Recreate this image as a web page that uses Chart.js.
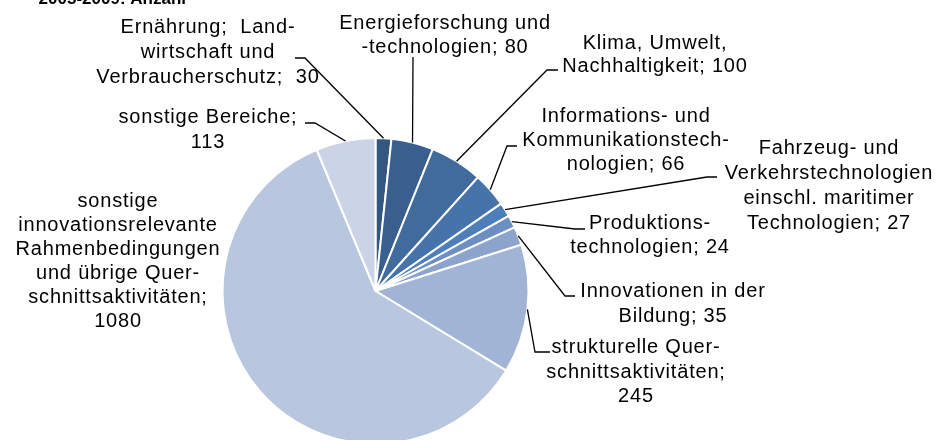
<!DOCTYPE html>
<html lang="de">
<head>
  <meta charset="UTF-8">
  <title>Vorhaben nach Bereichen</title>
  <script src="https://cdn.jsdelivr.net/npm/chart.js"></script>
  <style>
    body {
      margin: 0;
      background: #fff;
      overflow: hidden;
    }

    .wrap {
      width: 939px;
      height: 460px;
    }
  </style>
</head>
<body>
  <div class="wrap">
    <canvas id="pie" width="939" height="460"></canvas>
  </div>

  <script>
    // Daten
    const titleText = '2005-2009: Anzahl';

    const categories = [
      'Ernährung; Landwirtschaft und Verbraucherschutz',
      'Energieforschung und -technologien',
      'Klima, Umwelt, Nachhaltigkeit',
      'Informations- und Kommunikationstechnologien',
      'Fahrzeug- und Verkehrstechnologien einschl. maritimer Technologien',
      'Produktionstechnologien',
      'Innovationen in der Bildung',
      'strukturelle Querschnittsaktivitäten',
      'sonstige innovationsrelevante Rahmenbedingungen und übrige Querschnittsaktivitäten',
      'sonstige Bereiche'
    ];

    const values = [30, 80, 100, 66, 27, 24, 35, 245, 1080, 113];

    // Zeilenumbrüche der Beschriftungen, {v} = Wert
    const labelLines = [
      ['Ernährung;  Land-', 'wirtschaft und', 'Verbraucherschutz;  {v}'],
      ['Energieforschung und', '-technologien; {v}'],
      ['Klima, Umwelt,', 'Nachhaltigkeit; {v}'],
      ['Informations- und', 'Kommunikationstech-', 'nologien; {v}'],
      ['Fahrzeug- und', 'Verkehrstechnologien', 'einschl. maritimer', 'Technologien; {v}'],
      ['Produktions-', 'technologien; {v}'],
      ['Innovationen in der', 'Bildung; {v}'],
      ['strukturelle Quer-', 'schnittsaktivitäten;', '{v}'],
      ['sonstige', 'innovationsrelevante', 'Rahmenbedingungen', 'und übrige Quer-', 'schnittsaktivitäten;', '{v}'],
      ['sonstige Bereiche;', '{v}']
    ];

    const sliceColors = [
      '#34577F', '#3A5F8E', '#416A9D', '#4673A9', '#4C7EB9',
      '#6C8EC3', '#8CA3CB', '#A2B4D5', '#B9C6DF', '#CAD4E6'
    ];

    // Lage der Beschriftungen: Mitte x, erste Grundlinie y, Knick der Führungslinie
    const labelPos = [
      { x: 208, y: 33, lh: 25, leader: [[295, 58], [305, 58]] },
      { x: 445, y: 29, lh: 24, leader: [[413, 57], [413, 58]] },
      { x: 655, y: 49, lh: 23, leader: [[558, 70], [547, 70]] },
      { x: 626, y: 122, lh: 24, leader: [[517, 146], [507, 146]] },
      { x: 829, y: 154, lh: 25, leader: [[717, 177], [707, 177]] },
      { x: 650, y: 229, lh: 24, leader: [[585, 229], [575, 229]] },
      { x: 673, y: 297, lh: 25, leader: [[575, 296], [565, 296]] },
      { x: 636, y: 353, lh: 24.5, leader: [[550, 352], [535, 352]] },
      { x: 118, y: 207, lh: 24, leader: null },
      { x: 208, y: 123, lh: 25, leader: [[305, 123], [315, 123]] }
    ];

    // Beschriftungen mit Führungslinien
    const labelPlugin = {
      id: 'pieLabels',
      afterDatasetsDraw(chart) {
        const ctx = chart.ctx;
        const arcs = chart.getDatasetMeta(0).data;
        ctx.save();

        // abgeschnittener Titel oben
        ctx.font = 'bold 17px "Liberation Sans", Arial, sans-serif';
        ctx.fillStyle = '#000';
        ctx.textAlign = 'right';
        ctx.textBaseline = 'alphabetic';
        ctx.fillText(titleText, 186, 4);

        ctx.strokeStyle = '#000';
        ctx.lineWidth = 1.3;
        arcs.forEach((arc, i) => {
          const pos = labelPos[i];
          if (!pos.leader) return;
          const p = arc.getProps(['x', 'y', 'startAngle', 'endAngle', 'outerRadius'], true);
          const mid = (p.startAngle + p.endAngle) / 2;
          const ex = p.x + Math.cos(mid) * p.outerRadius;
          const ey = p.y + Math.sin(mid) * p.outerRadius;
          ctx.beginPath();
          ctx.moveTo(pos.leader[0][0], pos.leader[0][1]);
          ctx.lineTo(pos.leader[1][0], pos.leader[1][1]);
          ctx.lineTo(ex, ey);
          ctx.stroke();
        });

        ctx.font = '20px "Liberation Sans", Arial, sans-serif';
        ctx.letterSpacing = '0.8px';
        ctx.textAlign = 'center';
        ctx.fillStyle = '#000';
        labelLines.forEach((lines, i) => {
          const pos = labelPos[i];
          lines.forEach((line, j) => {
            const txt = line.replace('{v}', values[i]);
            ctx.fillText(txt, pos.x, pos.y + j * pos.lh);
          });
        });
        ctx.restore();
      }
    };

    new Chart(document.getElementById('pie'), {
      type: 'pie',
      data: {
        labels: categories,
        datasets: [{
          data: values,
          backgroundColor: sliceColors,
          borderColor: '#ffffff',
          borderWidth: 2,
          hoverOffset: 0,
          radius: 153
        }]
      },
      options: {
        responsive: false,
        animation: false,
        events: [],
        layout: {
          padding: { left: 222, right: 410, top: 138, bottom: 16 }
        },
        plugins: {
          legend: { display: false },
          tooltip: { enabled: false }
        }
      },
      plugins: [labelPlugin]
    });
  </script>
</body>
</html>
